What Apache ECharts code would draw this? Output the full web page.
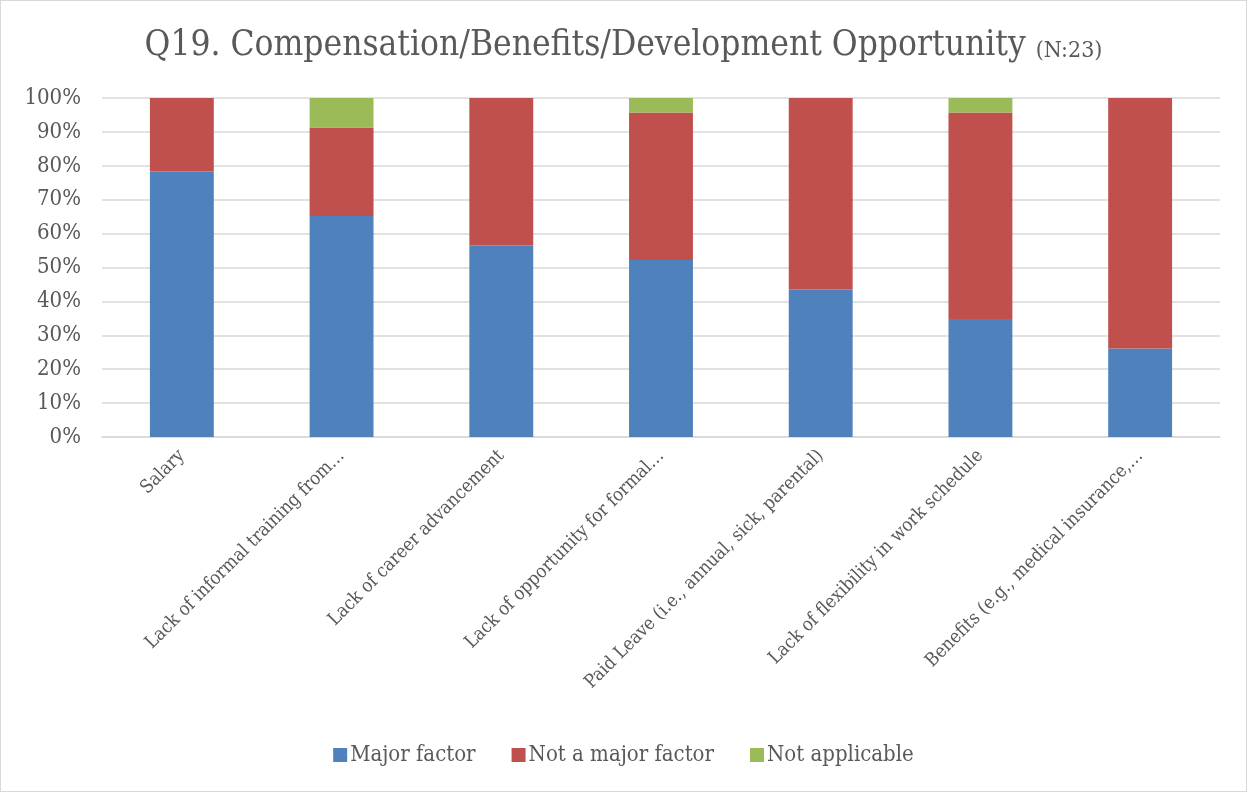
<!DOCTYPE html>
<html>
<head>
<meta charset="utf-8">
<script src="https://cdn.jsdelivr.net/npm/echarts@6/dist/echarts.min.js"></script>
<style>
  html, body { margin: 0; padding: 0; background: #fff; }
  #chart { width: 1247px; height: 792px; box-sizing: border-box; border: 1px solid #d9d9d9; }
</style>
</head>
<body>
<div id="chart"></div>
<script>
// Survey responses (N = 23), share of respondents in percent
const categories = [
  'Salary',
  'Lack of informal training from…',
  'Lack of career advancement',
  'Lack of opportunity for formal…',
  'Paid Leave (i.e., annual, sick, parental)',
  'Lack of flexibility in work schedule',
  'Benefits (e.g., medical insurance,…'
];
const majorFactor    = [78.3, 65.2, 56.5, 52.2, 43.5, 34.8, 26.1];
const notMajorFactor = [21.7, 26.1, 43.5, 43.5, 56.5, 60.9, 73.9];
const notApplicable  = [0,    8.7,  0,    4.3,  0,    4.3,  0];
const seriesNames = ['Major factor', 'Not a major factor', 'Not applicable'];

const serif = '"DejaVu Serif Condensed", "DejaVu Serif", serif';
const textColor = '#595959';

const chart = echarts.init(document.getElementById('chart'), null, { renderer: 'canvas' });

function barSeries(name, data, color) {
  return {
    name: name,
    type: 'bar',
    stack: 'total',
    data: data,
    barWidth: '40%',
    itemStyle: { color: color },
    emphasis: { disabled: true }
  };
}

chart.setOption({
  animation: false,
  title: {
    text: 'Q19. Compensation/Benefits/Development Opportunity {s|(N:23)}',
    left: 'center',
    top: 22,
    textStyle: {
      fontFamily: serif,
      fontSize: 35,
      fontWeight: 'normal',
      color: textColor,
      rich: {
        s: { fontFamily: serif, fontSize: 23, color: textColor, verticalAlign: 'bottom', padding: [8, 0, 0, 0] }
      }
    }
  },
  legend: {
    data: seriesNames,
    bottom: 20,
    left: 'center',
    itemWidth: 14,
    itemHeight: 14,
    itemGap: 36,
    icon: 'rect',
    textStyle: { fontFamily: serif, fontSize: 22, color: textColor, padding: [0, 0, 0, -2] }
  },
  grid: { left: 101, right: 26, top: 97, bottom: 354, containLabel: false },
  xAxis: {
    type: 'category',
    data: categories,
    axisLine: { show: true, lineStyle: { color: '#d9d9d9', width: 1.5 } },
    axisTick: { show: false },
    axisLabel: {
      rotate: 45,
      interval: 0,
      margin: 16,
      fontFamily: serif,
      fontSize: 18.5,
      color: textColor
    }
  },
  yAxis: {
    type: 'value',
    min: 0,
    max: 100,
    interval: 10,
    axisLine: { show: false },
    axisTick: { show: false },
    splitLine: { lineStyle: { color: '#d9d9d9', width: 1.5 } },
    axisLabel: {
      formatter: '{value}%',
      fontFamily: serif,
      fontSize: 22,
      color: textColor,
      margin: 21
    }
  },
  series: [
    barSeries(seriesNames[0], majorFactor, '#4F81BD'),
    barSeries(seriesNames[1], notMajorFactor, '#C0504D'),
    barSeries(seriesNames[2], notApplicable, '#9BBB59')
  ]
});
</script>
</body>
</html>
